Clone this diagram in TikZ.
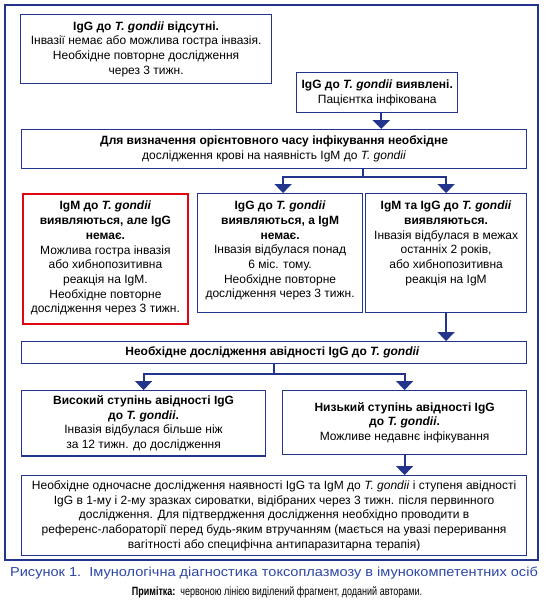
\documentclass[tikz,border=0pt]{standalone}
\usepackage{fontspec}
\setmainfont{Liberation Sans}
\newfontfamily\capfont[FakeStretch=1.12]{Liberation Sans}
\newfontfamily\notefont[FakeStretch=0.75]{Liberation Sans}
\usepackage{xcolor}
\usepackage{tikz}
\usetikzlibrary{arrows.meta,positioning,calc}
\definecolor{flowblue}{RGB}{34,52,140}
\definecolor{capblue}{RGB}{45,70,165}
\definecolor{markred}{RGB}{226,6,19}

\begin{document}
\begin{tikzpicture}[x=1pt, y=-1pt,
    box/.style={draw=flowblue, line width=1.2pt, align=center, inner sep=5pt, anchor=north west},
    rowbox/.style={box},
    arr/.style={-{Triangle[width=17pt,length=9pt]}, line width=2.2pt, draw=flowblue},
    link/.style={line width=2.2pt, draw=flowblue},
    every node/.style={font=\fontsize{12}{14.7}\selectfont}
]
\useasboundingbox (0,0) rectangle (546,608);
\draw[flowblue, line width=1.2pt] (5,5) rectangle (538,560);

\node[box, minimum width=251pt, minimum height=69pt] (absent) at (20,14) {
    \textbf{IgG до \textit{T. gondii} відсутні.}\\
    Інвазії немає або можлива гостра інвазія.\\
    Необхідне повторне дослідження\\
    через 3 тижн.
};
\node[box, minimum width=159pt, minimum height=40pt] (found) at (296,72) {
    \textbf{IgG до \textit{T. gondii} виявлені.}\\
    Пацієнтка інфікована
};
\node[box, minimum width=505pt, minimum height=39pt] (timing) at (21,129) {
    \textbf{Для визначення орієнтовного часу інфікування необхідне}\\
    дослідження крові на наявність IgM до \textit{T. gondii}
};
\node[rowbox, draw=markred, line width=1.8pt, minimum width=165pt, text height=113.9pt, text depth=6.1pt] (igmonly) at (22,193) {
    \textbf{IgM до \textit{T. gondii}}\\
    \textbf{виявляються, але IgG}\\
    \textbf{немає.}\\
    Можлива гостра інвазія\\
    або хибнопозитивна\\
    реакція на IgM.\\
    Необхідне повторне\\
    дослідження через 3 тижн.
};
\node[rowbox, minimum width=165pt, text height=99.2pt, text depth=9.8pt] (iggonly) at (197,193) {
    \textbf{IgG до \textit{T. gondii}}\\
    \textbf{виявляються, а IgM}\\
    \textbf{немає.}\\
    Інвазія відбулася понад\\
    6 міс. тому.\\
    Необхідне повторне\\
    дослідження через 3 тижн.
};
\node[rowbox, minimum width=161pt, text height=84.5pt, text depth=24.5pt] (both) at (365,193) {
    \textbf{IgM та IgG до \textit{T. gondii}}\\
    \textbf{виявляються.}\\
    Інвазія відбулася в межах\\
    останніх 2 років,\\
    або хибнопозитивна\\
    реакція на IgM
};
\node[box, minimum width=505pt, minimum height=22pt] (avid) at (21,341) {
    \textbf{Необхідне дослідження авідності IgG до \textit{T. gondii}}
};
\node[box, minimum width=244pt, minimum height=64pt] (high) at (21,390) {
    \textbf{Високий ступінь авідності IgG}\\
    \textbf{до \textit{T. gondii}.}\\
    Інвазія відбулася більше ніж\\
    за 12 тижн. до дослідження
};
\node[box, minimum width=244pt, minimum height=64pt] (low) at (282,390) {
    \textbf{Низький ступінь авідності IgG}\\
    \textbf{до \textit{T. gondii}.}\\
    Можливе недавнє інфікування
};
\node[box, minimum width=505pt, minimum height=79pt] (final) at (21,475) {
    Необхідне одночасне дослідження наявності IgG та IgM до \textit{T. gondii} і ступеня авідності\\
    IgG в 1-му і 2-му зразках сироватки, відібраних через 3 тижн. після первинного\\
    дослідження. Для підтвердження дослідження необхідно проводити в\\
    референс-лабораторії перед будь-яким втручанням (мається на увазі переривання\\
    вагітності або специфічна антипаразитарна терапія)
};

% connectors
\coordinate (fork1) at (363,177);
\coordinate (fork2) at (274,374);
\draw[arr] ([xshift=4pt]found.south) -- ([xshift=4pt]found.south |- timing.north);
\draw[link] (timing.south -| fork1) -- (fork1);
\draw[arr] (fork1) -| ([xshift=3pt]iggonly.north);
\draw[arr] (fork1) -| (both.north);
\draw[arr] (both.south) -- (both.south |- avid.north);
\draw[link] (avid.south -| fork2) -- (fork2);
\draw[arr] (fork2) -| (high.north);
\draw[arr] (fork2) -| (low.north);
\draw[arr] (low.south) -- (low.south |- final.north);

% caption
\node[font=\capfont\fontsize{13}{15}\selectfont, text=capblue] (caption) at (274,573) {Рисунок 1.\ \ Імунологічна діагностика токсоплазмозу в імунокомпетентних осіб};
\node[font=\notefont\fontsize{12}{14}\selectfont] (note) at (277,592) {\textbf{Примітка:}\ \ червоною лінією виділений фрагмент, доданий авторами.};
\end{tikzpicture}
\end{document}
